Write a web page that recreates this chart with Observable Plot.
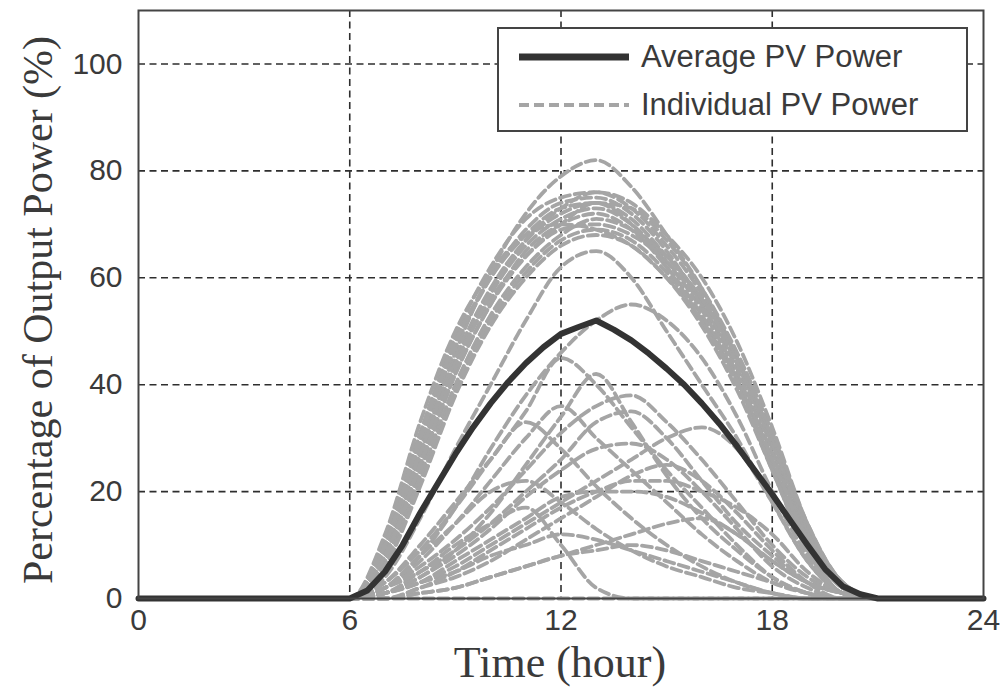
<!DOCTYPE html>
<html>
<head>
<meta charset="utf-8">
<script src="https://cdn.jsdelivr.net/npm/d3@7"></script>
<script src="https://cdn.jsdelivr.net/npm/@observablehq/plot@0.6"></script>
<style>
  html, body { margin: 0; padding: 0; background: #fff; }
  #wrap { position: relative; width: 1006px; height: 696px; overflow: hidden; }
  #legend {
    position: absolute; left: 497px; top: 27px; width: 467px; height: 101px;
    border: 2px solid #444; background: #fff;
    font-family: "Liberation Sans", Arial, sans-serif; font-size: 31px; color: #3a3a3a;
  }
  #legend .row { position: absolute; left: 0; height: 40px; display: flex; align-items: center; }
  #legend svg { margin-left: 20px; margin-right: 12px; }
</style>
</head>
<body>
<div id="wrap"></div>
<script>
// Hour-of-day axis
const hours = d3.range(0, 25);
const xTicks = [0, 6, 12, 18, 24];
const yTicks = [0, 20, 40, 60, 80, 100];

// Average PV output (% of rated), half-hour steps across daylight
const avgHours = [0, 6, 6.5, 7, 7.5, 8, 8.5, 9, 9.5, 10, 10.5, 11, 11.5, 12, 12.5, 13, 13.5, 14, 14.5, 15, 15.5, 16, 16.5, 17, 17.5, 18, 18.5, 19, 19.5, 20, 20.5, 21, 24];
const avgPower = [0, 0, 1.5, 5, 10, 16, 21.5, 27, 32, 36.5, 40.5, 44, 47, 49.5, 50.8, 52, 50.3, 48.3, 45.8, 43, 40, 36.5, 32.7, 28.5, 24, 19.5, 14.7, 10, 5.5, 2.3, 0.8, 0, 0];

// Individual PV sites, hourly values for hours 0..24
const individualPower = [
  // clear-sky sites
  [0,0,0,0,0,0, 0, 8,27,46,61,72,79,82,77,68,58,45,28,11, 2,0, 0,0,0],
  [0,0,0,0,0,0, 0,11,31,49,62,71,75,76,73,66,57,45,30,13, 3,0, 0,0,0],
  [0,0,0,0,0,0, 0,10,29,47,60,69,74,75,72,65,55,43,27,12, 2,0, 0,0,0],
  [0,0,0,0,0,0, 0, 9,28,45,58,67,72,74,71,64,56,44,29,12, 2,0, 0,0,0],
  [0,0,0,0,0,0, 0, 8,26,44,57,66,71,73,70,63,54,42,26,10, 1,0, 0,0,0],
  [0,0,0,0,0,0, 0, 7,24,42,55,65,70,72,69,62,53,41,25,10, 1,0, 0,0,0],
  [0,0,0,0,0,0, 0, 9,27,44,56,64,69,70,68,63,55,44,29,13, 3,0, 0,0,0],
  [0,0,0,0,0,0, 0, 7,23,40,53,62,68,71,69,64,56,45,30,13, 2,0, 0,0,0],
  [0,0,0,0,0,0, 0, 6,22,39,52,61,67,69,67,61,52,40,25,10, 1,0, 0,0,0],
  [0,0,0,0,0,0, 0, 8,25,42,55,64,70,74,73,67,58,46,31,14, 3,0, 0,0,0],
  [0,0,0,0,0,0, 0,12,33,50,61,68,70,69,66,60,52,41,26,11, 2,0, 0,0,0],
  [0,0,0,0,0,0, 0, 6,21,38,51,60,66,68,66,60,51,39,24, 9, 1,0, 0,0,0],
  [0,0,0,0,0,0, 0,10,30,48,60,68,73,74,70,62,52,40,24, 9, 1,0, 0,0,0],
  [0,0,0,0,0,0, 0, 8,25,43,57,67,73,76,74,68,60,48,32,14, 3,0, 0,0,0],
  // thin-cloud sites
  [0,0,0,0,0,0, 0, 4,15,28,40,52,62,65,60,50,40,30,18, 7, 1,0, 0,0,0],
  [0,0,0,0,0,0, 0, 2, 8,17,28,38,46,52,55,52,45,34,20, 8, 1,0, 0,0,0],
  // cloudy / partially shaded sites
  [0,0,0,0,0,0, 0, 1, 4, 9,16,25,34,42,33,23,15, 9, 4, 1, 0,0, 0,0,0],
  [0,0,0,0,0,0, 0, 2, 7,14,22,30,36,30,24,18,12, 7, 3, 1, 0,0, 0,0,0],
  [0,0,0,0,0,0, 0, 1, 4, 8,13,19,24,28,29,26,20,13, 6, 2, 0,0, 0,0,0],
  [0,0,0,0,0,0, 0, 1, 3, 7,11,15,19,20,20,19,16,12, 7, 3, 1,0, 0,0,0],
  [0,0,0,0,0,0, 0, 3,10,18,26,33,28,21,15,10, 6, 3, 1, 0, 0,0, 0,0,0],
  [0,0,0,0,0,0, 0, 0, 2, 4, 7,11,15,19,23,25,22,16, 9, 3, 0,0, 0,0,0],
  [0,0,0,0,0,0, 0, 1, 3, 5, 8,10,12,11, 9, 7, 5, 3, 1, 0, 0,0, 0,0,0],
  [0,0,0,0,0,0, 0, 0, 1, 2, 4, 6, 8, 9,10, 9, 7, 5, 3, 1, 0,0, 0,0,0],
  [0,0,0,0,0,0, 0, 2, 6,11,17,24,31,36,38,33,26,18,10, 4, 1,0, 0,0,0],
  [0,0,0,0,0,0, 0, 2, 8,14,20,22,18,13, 9, 6, 4, 2, 1, 0, 0,0, 0,0,0],
  [0,0,0,0,0,0, 0, 1, 5,10,14,17,10, 2, 0, 0, 0, 0, 0, 0, 0,0, 0,0,0],
  [0,0,0,0,0,0, 0, 3, 9,17,26,35,45,40,32,24,17,10, 4, 1, 0,0, 0,0,0],
  [0,0,0,0,0,0, 0, 0, 1, 2, 4, 6, 8,10,12,14,15,12, 7, 3, 1,0, 0,0,0],
  [0,0,0,0,0,0, 0, 1, 3, 6,10,14,18,22,26,30,32,28,18, 7, 1,0, 0,0,0],
  [0,0,0,0,0,0, 0, 0, 2, 5, 9,13,17,20,22,22,20,17,12, 5, 1,0, 0,0,0],
  [0,0,0,0,0,0, 0, 2, 5, 9,14,20,26,33,35,30,22,14, 8, 3, 1,0, 0,0,0],
  [0,0,0,0,0,0, 0, 0, 0, 0, 0, 0, 0, 0, 0, 0, 0, 0, 0, 0, 0,0, 0,0,0]
];

// Long-format tables for the line marks
const individualRows = individualPower.flatMap((series, id) =>
  series.map((value, i) => ({id, hour: hours[i], value})));
const averageRows = avgHours.map((hour, i) => ({hour, value: avgPower[i]}));

const gridStyle = {stroke: "#2e2e2e", strokeOpacity: 1, strokeWidth: 1.6, strokeDasharray: "7,4.5"};

const chart = Plot.plot({
  width: 1006,
  height: 696,
  marginLeft: 138,
  marginRight: 23,
  marginTop: 10,
  marginBottom: 98,
  style: {fontFamily: "'Liberation Sans', Arial, sans-serif", fontSize: "30px", color: "#3a3a3a", background: "#fff"},
  x: {domain: [0, 24], label: null},
  y: {domain: [0, 110], label: null},
  marks: [
    Plot.gridX([6, 12, 18], gridStyle),
    Plot.gridY([20, 40, 60, 80, 100], gridStyle),
    Plot.line(individualRows, {
      x: "hour", y: "value", z: "id",
      stroke: "#a5a5a5", strokeWidth: 3.8, strokeDasharray: "10,5", curve: "monotone-x"
    }),
    Plot.line(averageRows, {x: "hour", y: "value", stroke: "#333", strokeWidth: 6}),
    Plot.frame({stroke: "#444", strokeWidth: 2}),
    Plot.axisX(xTicks, {tickSize: 0, tickPadding: 10, fontSize: 30}),
    Plot.axisY(yTicks, {tickSize: 0, tickPadding: 16, fontSize: 30})
  ]
});

const wrap = document.getElementById("wrap");
wrap.appendChild(chart);

// Axis titles in a serif face
const svg = d3.select(chart);
svg.append("text")
  .attr("x", 560).attr("y", 677)
  .attr("text-anchor", "middle")
  .attr("font-family", "'Liberation Serif', 'Times New Roman', serif")
  .attr("font-size", 44).attr("fill", "#3a3a3a")
  .text("Time (hour)");
svg.append("text")
  .attr("transform", "translate(52,310) rotate(-90)")
  .attr("text-anchor", "middle")
  .attr("font-family", "'Liberation Serif', 'Times New Roman', serif")
  .attr("font-size", 42).attr("fill", "#3a3a3a")
  .text("Percentage of Output Power (%)");

// Legend
const legend = document.createElement("div");
legend.id = "legend";
legend.innerHTML = `
  <div class="row" style="top:8px">
    <svg width="110" height="12"><line x1="0" x2="110" y1="6" y2="6" stroke="#333" stroke-width="7"/></svg>
    <span>Average PV Power</span>
  </div>
  <div class="row" style="top:56px">
    <svg width="110" height="12"><line x1="0" x2="110" y1="6" y2="6" stroke="#a5a5a5" stroke-width="3.8" stroke-dasharray="10,5"/></svg>
    <span>Individual PV Power</span>
  </div>`;
wrap.appendChild(legend);
</script>
</body>
</html>
